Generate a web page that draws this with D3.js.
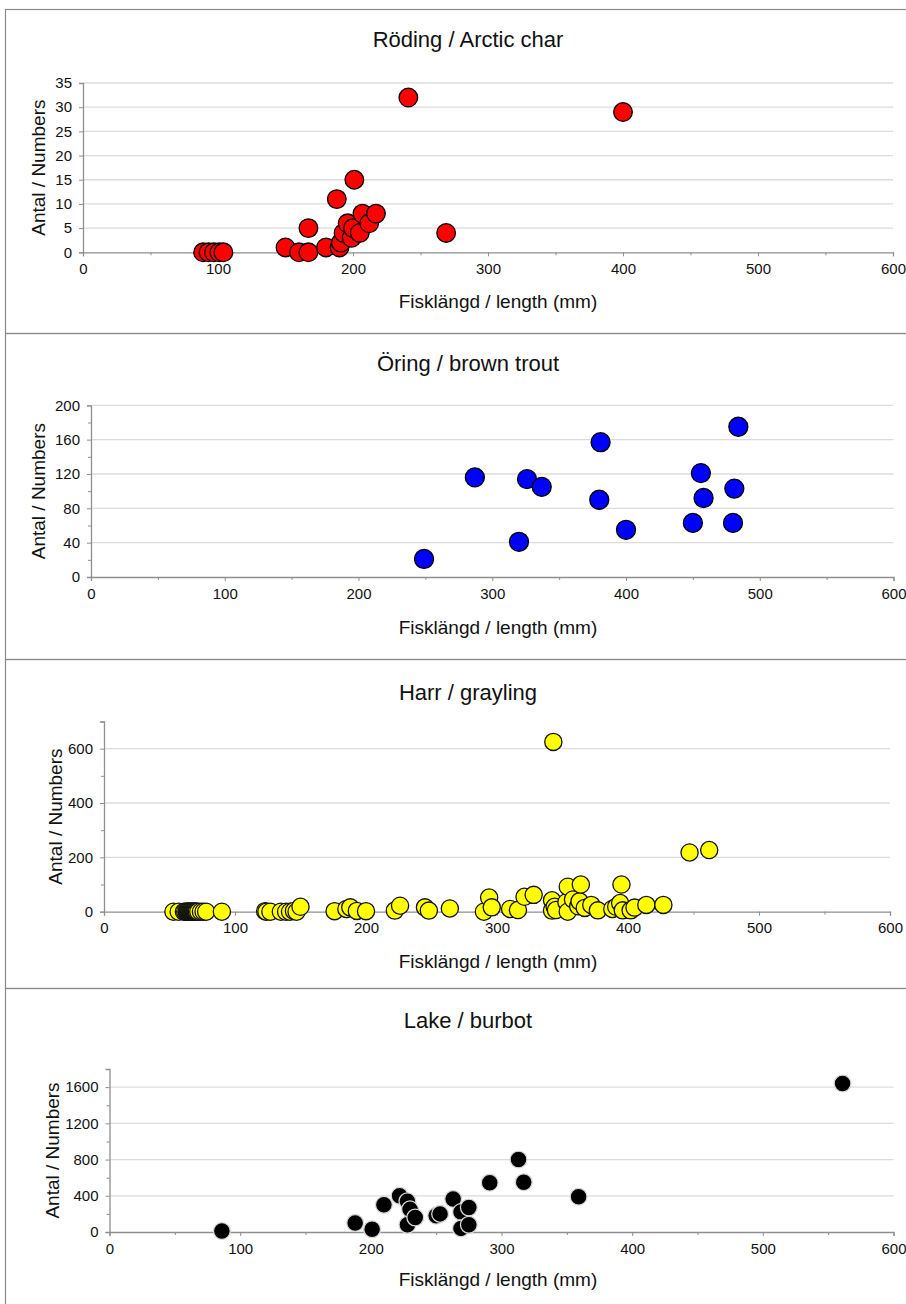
<!DOCTYPE html>
<html>
<head>
<meta charset="utf-8">
<script src="https://cdn.jsdelivr.net/npm/d3@7"></script>
<style>
body { margin: 0; background: #fff; }
text { font-family: "Liberation Sans", Arial, sans-serif; fill: #111; }
</style>
</head>
<body>
<script>
// Fish length (mm) vs numbers, one panel per species
var width = 906,
	height = 1304;

// Röding / Arctic char
var charLength = [89, 93, 97, 101, 104, 150, 160, 167, 167, 180, 188, 190, 191, 193, 196, 199, 200, 201, 205, 207, 212, 217, 241, 269, 400];
var charCount  = [0, 0, 0, 0, 0, 1, 0, 0, 5, 1, 11, 1, 2, 4, 6, 3, 5, 15, 4, 8, 6, 8, 32, 4, 29];

// Öring / brown trout
var troutLength = [249, 287, 320, 326, 337, 381, 380, 400, 450, 456, 458, 481, 480, 484];
var troutCount  = [21, 116, 41, 114, 105, 157, 90, 55, 63, 121, 92, 103, 63, 175];

// Harr / grayling
var graylingLength = [53, 57, 61, 62, 63, 63.5, 64, 64.5, 65, 65.5, 66, 66.5, 67, 67.5, 68, 68.5, 69, 69.5, 70, 70.5, 71, 72, 74, 76, 78, 90,
	123, 124, 127, 135, 139, 142, 145, 147, 150,
	176, 185, 188, 193, 200,
	222, 226, 245, 248, 264,
	290, 294, 296, 310, 316, 321, 328,
	342, 342, 343, 344, 345, 353, 354, 354, 358, 362, 363, 364, 367, 372, 377,
	388, 391, 394, 395, 396, 402, 405, 414, 427, 447, 462];
var graylingCount = [0, 0, 0, 0, 0, 0, 0, 0, 0, 0, 0, 0, 0, 0, 0, 0, 0, 0, 0, 0, 0, 0, 0, 0, 0, 0,
	2, 0, 0, 0, 0, 0, 3, 0, 18,
	2, 10, 16, 3, 2,
	4, 22, 16, 4, 12,
	0, 52, 16, 10, 6, 55, 62,
	42, 4, 625, 18, 6, 35, 92, 0, 45, 20, 38, 100, 14, 25, 5,
	10, 18, 32, 100, 5, 5, 15, 25, 25, 218, 227];

// Lake / burbot
var burbotLength = [86, 188, 201, 210, 222, 228, 230, 228, 234, 250, 253, 263, 269, 275, 269, 275, 291, 313, 317, 359, 561];
var burbotCount  = [10, 100, 30, 300, 400, 340, 250, 80, 160, 180, 200, 365, 220, 270, 40, 80, 545, 800, 550, 390, 1640];

var titles = ["Röding / Arctic char", "Öring / brown trout", "Harr / grayling", "Lake / burbot"];
var xTicks = [0, 100, 200, 300, 400, 500, 600];
var yTicks = [
	[0, 5, 10, 15, 20, 25, 30, 35],
	[0, 40, 80, 120, 160, 200],
	[0, 200, 400, 600],
	[0, 400, 800, 1200, 1600]
];
var yMax = [35, 200, 700, 1800];
var yMinorStep = [null, 20, 100, 200];

var series = [
	{x: charLength, y: charCount},
	{x: troutLength, y: troutCount},
	{x: graylingLength, y: graylingCount},
	{x: burbotLength, y: burbotCount}
];

// layout of each panel (pixels)
var layout = [
	{top: 9,   bottom: 333,  left: 83,    right: 893,   plotTop: 83,    plotBottom: 252.3, titleY: 47,   xTitleY: 308,  yTitleX: 38, r: 9.3, fill: "#ff0000", stroke: "#000"},
	{top: 333, bottom: 659,  left: 91,    right: 893.5, plotTop: 405.3, plotBottom: 577,   titleY: 371,  xTitleY: 634,  yTitleX: 38, r: 9.5, fill: "#0000ff", stroke: "#000"},
	{top: 659, bottom: 988,  left: 104,   right: 890,   plotTop: 721.5, plotBottom: 911.7, titleY: 700,  xTitleY: 968,  yTitleX: 55, r: 8.6, fill: "#ffff00", stroke: "#111"},
	{top: 988, bottom: 1310, left: 109.5, right: 893.5, plotTop: 1069,  plotBottom: 1232,  titleY: 1028, xTitleY: 1286, yTitleX: 52, r: 8.4, fill: "#000000", stroke: "#d8d8d8"}
];

var svg = d3.select("body").append("svg")
	.attr("width", width)
	.attr("height", height);

layout.forEach(function(L, i) {
	var g = svg.append("g").attr("class", "panel");

	// frame
	g.append("rect")
		.attr("x", 5.5).attr("y", L.top + 0.5)
		.attr("width", width + 10).attr("height", L.bottom - L.top)
		.attr("fill", "none").attr("stroke", "#8a8a8a").attr("stroke-width", 1.2);

	var xScale = d3.scaleLinear().domain([0, 600]).range([L.left, L.right]);
	var yScale = d3.scaleLinear().domain([0, yMax[i]]).range([L.plotBottom, L.plotTop]);

	// gridlines
	g.selectAll(".grid")
		.data(yTicks[i].filter(function(d) { return d > 0; }))
		.enter().append("line")
		.attr("x1", L.left).attr("x2", L.right)
		.attr("y1", function(d) { return yScale(d); })
		.attr("y2", function(d) { return yScale(d); })
		.attr("stroke", "#dcdcdc").attr("stroke-width", 1.3);

	// x axis
	var xAxis = d3.axisBottom(xScale).tickValues(xTicks).tickSize(4).tickPadding(7).tickFormat(d3.format("d"));
	g.append("g")
		.attr("transform", "translate(0," + L.plotBottom + ")")
		.call(xAxis);
	var xMinor = d3.axisBottom(xScale).tickValues([50, 150, 250, 350, 450, 550]).tickSize(3).tickFormat("");
	var xmg = g.append("g")
		.attr("transform", "translate(0," + L.plotBottom + ")")
		.call(xMinor);
	xmg.select(".domain").remove();

	// y axis
	var yAxis = d3.axisLeft(yScale).tickValues(yTicks[i]).tickSize(4).tickPadding(7).tickFormat(d3.format("d"));
	g.append("g")
		.attr("transform", "translate(" + L.left + ",0)")
		.call(yAxis);
	if (yMinorStep[i]) {
		var minor = d3.range(yMinorStep[i], yMax[i] + 1, yMinorStep[i]).filter(function(d) {
			return yTicks[i].indexOf(d) < 0;
		});
		var ymg = g.append("g")
			.attr("transform", "translate(" + L.left + ",0)")
			.call(d3.axisLeft(yScale).tickValues(minor).tickSize(3).tickFormat(""));
		ymg.select(".domain").remove();
	}

	g.selectAll(".domain").attr("stroke", "#8f8f8f").attr("stroke-width", 1.3);
	g.selectAll(".tick line").attr("stroke", "#8f8f8f");
	g.selectAll(".tick text")
		.style("font-family", "'Liberation Sans', Arial, sans-serif")
		.style("font-size", "15px")
		.attr("fill", "#111");

	// titles
	g.append("text")
		.attr("x", 468).attr("y", L.titleY)
		.attr("text-anchor", "middle")
		.style("font-size", "22px")
		.text(titles[i]);
	g.append("text")
		.attr("x", 498).attr("y", L.xTitleY)
		.attr("text-anchor", "middle")
		.style("font-size", "19px")
		.text("Fisklängd / length (mm)");
	g.append("text")
		.attr("text-anchor", "middle")
		.attr("transform", "translate(" + L.yTitleX + "," + ((L.plotTop + L.plotBottom) / 2) + ") rotate(-90)")
		.attr("dy", "0.35em")
		.style("font-size", "19px")
		.text("Antal / Numbers");

	// points
	var pts = series[i].x.map(function(v, k) { return {len: v, n: series[i].y[k]}; });
	g.selectAll("circle")
		.data(pts)
		.enter().append("circle")
		.attr("cx", function(d) { return xScale(d.len); })
		.attr("cy", function(d) { return yScale(d.n); })
		.attr("r", L.r)
		.attr("fill", L.fill)
		.attr("stroke", L.stroke)
		.attr("stroke-width", 1.3);
});
</script>
</body>
</html>
